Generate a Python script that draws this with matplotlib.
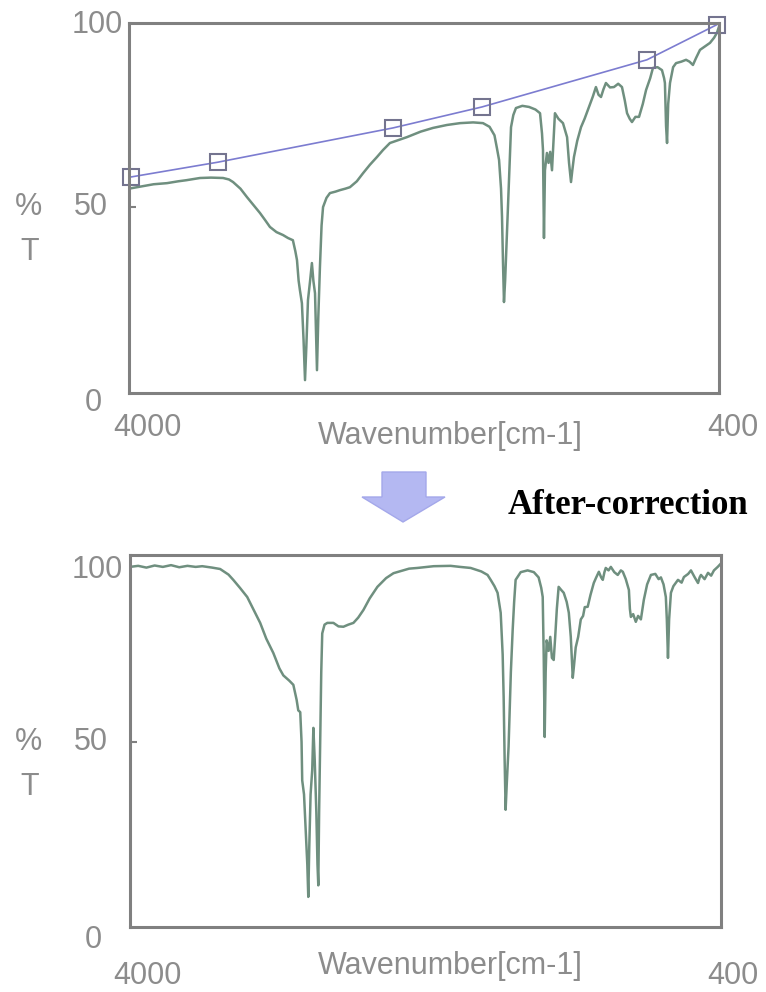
import numpy as np
import matplotlib.pyplot as plt
from matplotlib.patches import Polygon

# baseline anchor points picked on the raw spectrum (cm-1, %T)
base_wn = [3985, 3457, 2389, 1846, 840, 415]
base_t = [58.2, 62.2, 71.5, 77.2, 90.0, 99.5]

# raw spectrum before correction
raw_wn = [4000, 3976, 3900, 3850, 3768, 3700, 3650, 3567, 3500, 3426, 3390, 3365,
          3320, 3280, 3240, 3201, 3170, 3140, 3100, 3060, 3030, 3000, 2985, 2975,
          2965, 2957, 2945, 2935, 2926, 2918, 2908, 2895, 2884, 2875, 2865, 2858,
          2853, 2845, 2835, 2825, 2816, 2795, 2774, 2740, 2713, 2680, 2652, 2610,
          2572, 2530, 2487, 2450, 2408, 2350, 2304, 2220, 2145, 2060, 1980, 1900,
          1840, 1800, 1770, 1755, 1742, 1730, 1724, 1718, 1712, 1705, 1694, 1680,
          1669, 1655, 1639, 1600, 1559, 1520, 1492, 1480, 1474, 1468, 1462, 1450,
          1440, 1430, 1419, 1410, 1401, 1380, 1352, 1340, 1327, 1315, 1303, 1295,
          1285, 1265, 1242, 1220, 1193, 1170, 1151, 1135, 1120, 1105, 1090, 1065,
          1041, 1015, 992, 975, 961, 945, 931, 910, 888, 865, 845, 820, 803, 775,
          748, 735, 730, 723, 717, 710, 699, 680, 662, 630, 601, 580, 559, 540,
          516, 490, 455, 430, 413, 400]
raw_t = [55.0, 55.2, 55.8, 56.2, 56.5, 57.0, 57.3, 57.9, 58.0, 57.9, 57.5, 56.8,
         55.0, 52.7, 50.5, 48.4, 46.5, 44.6, 43.2, 42.4, 41.6, 41.0, 38.0, 35.6,
         30.0, 27.4, 23.9, 14.0, 3.0, 12.0, 24.7, 30.0, 34.8, 30.0, 26.6, 15.0,
         5.7, 20.0, 33.7, 45.0, 50.0, 52.5, 53.8, 54.2, 54.6, 55.0, 55.4, 57.0,
         59.2, 61.5, 63.6, 65.5, 67.4, 68.3, 69.0, 70.5, 71.5, 72.3, 72.8, 73.0,
         72.8, 71.8, 69.5, 66.0, 62.8, 55.0, 47.3, 35.0, 24.2, 30.0, 42.9, 60.0,
         71.7, 75.0, 76.9, 77.5, 77.2, 76.5, 75.5, 70.0, 65.5, 41.6, 60.0, 64.7,
         62.0, 65.0, 60.0, 68.0, 75.5, 74.0, 72.8, 71.0, 69.0, 62.0, 56.8, 60.0,
         63.6, 68.0, 71.7, 74.0, 77.2, 80.0, 82.6, 80.5, 79.9, 82.0, 83.7, 82.5,
         82.6, 83.5, 82.6, 79.0, 75.5, 74.0, 73.1, 74.5, 74.5, 78.0, 81.8, 85.0,
         87.8, 88.0, 87.2, 85.0, 83.7, 72.0, 67.4, 78.0, 83.7, 88.0, 89.1, 89.5,
         90.0, 89.5, 88.6, 90.5, 92.7, 93.5, 94.6, 96.0, 97.3, 99.0]

# spectrum after baseline correction
corr_wn = [4000, 3950, 3900, 3850, 3800, 3750, 3700, 3650, 3600, 3560, 3500, 3451,
           3400, 3371, 3330, 3286, 3250, 3207, 3170, 3127, 3090, 3066, 3030, 3005,
           2985, 2975, 2963, 2955, 2951, 2940, 2930, 2920, 2914, 2908, 2900, 2890,
           2883, 2875, 2865, 2858, 2853, 2848, 2841, 2835, 2829, 2815, 2798, 2761,
           2730, 2700, 2670, 2639, 2610, 2578, 2540, 2493, 2440, 2395, 2300, 2249,
           2150, 2047, 1990, 1925, 1860, 1822, 1803, 1780, 1761, 1742, 1730, 1724,
           1718, 1712, 1705, 1694, 1680, 1669, 1660, 1651, 1620, 1578, 1540, 1511,
           1495, 1486, 1480, 1474, 1468, 1462, 1450, 1440, 1430, 1419, 1410, 1400,
           1389, 1375, 1358, 1340, 1327, 1315, 1303, 1295, 1285, 1270, 1254, 1240,
           1230, 1212, 1195, 1175, 1160, 1144, 1130, 1120, 1110, 1102, 1085, 1071,
           1050, 1029, 1010, 998, 980, 961, 955, 949, 935, 919, 905, 888, 870, 850,
           827, 800, 780, 766, 750, 736, 730, 723, 716, 705, 690, 662, 640, 626,
           600, 583, 560, 540, 530, 522, 500, 479, 460, 443, 420, 400]
corr_t = [100.0, 100.3, 99.8, 100.4, 100.0, 100.5, 99.9, 100.3, 100.0, 100.2, 99.8, 99.4,
          97.8, 96.3, 94.0, 91.4, 88.0, 84.0, 79.5, 75.4, 71.0, 69.0, 67.5, 66.3,
          62.0, 59.0, 58.5, 50.0, 39.0, 35.0, 25.0, 15.0, 5.7, 20.0, 35.0, 42.0,
          54.0, 45.0, 30.0, 15.0, 9.0, 30.0, 51.4, 70.0, 81.0, 83.5, 84.0, 84.0,
          83.0, 82.9, 83.5, 84.0, 85.5, 87.7, 91.0, 94.3, 96.8, 98.2, 99.5, 99.7,
          100.2, 100.3, 100.0, 99.7, 98.7, 97.7, 96.3, 94.5, 92.6, 86.9, 75.0, 62.9,
          45.0, 30.6, 38.0, 48.6, 70.0, 82.0, 90.0, 96.3, 98.5, 99.0, 98.5, 97.0,
          94.0, 91.4, 75.0, 51.4, 70.0, 79.0, 76.0, 80.0, 74.0, 73.4, 80.0, 88.0,
          94.3, 93.5, 92.6, 90.0, 86.9, 80.0, 68.3, 72.0, 77.0, 80.0, 85.0, 86.0,
          88.5, 88.6, 92.0, 95.4, 97.0, 98.6, 97.0, 96.3, 98.5, 99.7, 99.0, 100.0,
          98.5, 97.7, 99.0, 98.6, 96.5, 93.4, 88.0, 85.7, 86.5, 84.3, 86.0, 85.0, 90.6, 95.0,
          97.7, 98.0, 96.5, 97.0, 95.0, 91.4, 85.0, 74.0, 85.0, 92.6, 94.5, 96.3, 95.5, 97.1,
          98.0, 99.0, 97.0, 95.4, 97.0, 97.7, 96.5, 98.3, 97.5, 99.0, 100.0, 101.0]

W, H = 766, 992
spec_color = "#6f8f7f"
frame_color = "#808080"
label_color = "#8c8c8c"


def px(x, y):
    # pixel position (from top-left) -> figure fraction
    return x / W, 1 - y / H


def make_axes(fig, left, top, right, bottom, ylim):
    ax = fig.add_axes([left / W, 1 - bottom / H, (right - left) / W, (bottom - top) / H])
    ax.set_xlim(4000, 400)
    ax.set_ylim(*ylim)
    ax.set_xticks([])
    ax.set_yticks([50])
    ax.set_yticklabels([])
    ax.tick_params(axis="y", direction="in", length=5, width=1.5, color=frame_color)
    for s in ax.spines.values():
        s.set_color(frame_color)
        s.set_linewidth(2.2)
    return ax


def axis_labels(fig, y100, y50, y0, yx, ytitle):
    kw = dict(color=label_color, fontsize=22, family="Liberation Sans")
    fig.text(*px(123, y100), "100", ha="right", va="center", **kw)
    fig.text(*px(108, y50), "50", ha="right", va="center", **kw)
    fig.text(*px(93, y0), "0", ha="center", va="center", **kw)
    fig.text(*px(147, yx), "4000", ha="center", va="center", **kw)
    fig.text(*px(733, yx), "400", ha="center", va="center", **kw)
    fig.text(*px(450, ytitle), "Wavenumber[cm-1]", ha="center", va="center", **kw)
    fig.text(*px(28, y50), "%", ha="center", va="center", **kw)
    fig.text(*px(30, y50 + 45), "T", ha="center", va="center", **kw)


fig = plt.figure(figsize=(W / 100, H / 100), dpi=100)

# raw spectrum with the baseline
ax1 = make_axes(fig, 129, 23, 719, 393, (-0.5, 100))
ax1.plot(raw_wn, raw_t, color=spec_color, lw=1.8)
ax1.plot(base_wn, base_t, color="#7c7cd0", lw=1.2, marker="s", ms=11,
         mfc="none", mec="#74748f", mew=1.5, clip_on=False)
axis_labels(fig, 25, 207, 403, 428, 436)

# corrected spectrum
ax2 = make_axes(fig, 130, 555, 721, 927, (-2.9, 103.4))
ax2.plot(corr_wn, corr_t, color=spec_color, lw=1.8)
axis_labels(fig, 570, 742, 940, 976, 966)

# arrow between the panels
arrow_px = [(382, 472), (426, 472), (426, 497), (445, 497), (403, 522),
            (362, 497), (382, 497)]
fig.patches.append(Polygon([px(x, y) for x, y in arrow_px], closed=True,
                           transform=fig.transFigure, facecolor="#b4b8f2",
                           edgecolor="#a4a8ea", lw=1))

fig.text(*px(508, 505), "After-correction", ha="left", va="center",
         fontsize=25, fontweight="bold", family="Liberation Serif", color="black")

fig.savefig("out.png", dpi=100)
